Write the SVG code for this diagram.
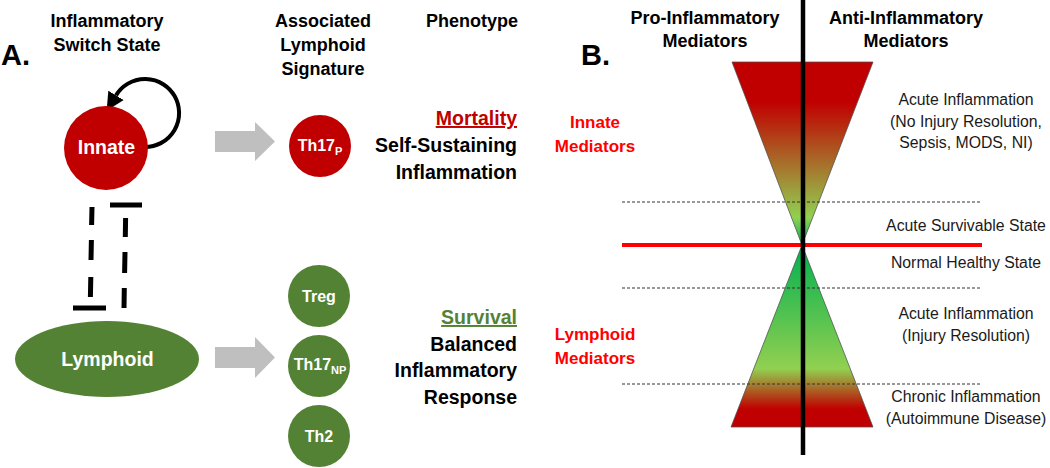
<svg xmlns="http://www.w3.org/2000/svg" width="1050" height="468" viewBox="0 0 1050 468">
<defs>
<style>
.h{font-family:"Liberation Sans",Arial,sans-serif;font-weight:bold;font-size:18px;fill:#000;text-anchor:middle}
.lbl{font-family:"Liberation Sans",Arial,sans-serif;font-weight:bold;font-size:29px;fill:#000}
.wt{font-family:"Liberation Sans",Arial,sans-serif;font-weight:bold;fill:#fff;text-anchor:middle}
.ph{font-family:"Liberation Sans",Arial,sans-serif;font-weight:bold;font-size:19.5px;fill:#000;text-anchor:end}
.med{font-family:"Liberation Sans",Arial,sans-serif;font-weight:bold;font-size:17px;fill:#ff0000;text-anchor:middle}
.st{font-family:"Liberation Sans",Arial,sans-serif;font-size:15.8px;fill:#1a1a1a;text-anchor:middle}
.red{fill:#c00000}
.grn{fill:#548235}
.garrow{fill:#bfbfbf}
.inh{stroke:#000;stroke-width:5;fill:none}
.dash{stroke:#333;stroke-width:1;stroke-dasharray:3,2;fill:none}
</style>
<marker id="ah" viewBox="0 0 10 10" refX="0" refY="5" markerUnits="userSpaceOnUse" markerWidth="18" markerHeight="19" orient="auto">
<path d="M0,0 L10,5 L0,10 z" fill="#000"/>
</marker>
<linearGradient id="gTop" gradientUnits="userSpaceOnUse" x1="0" y1="62" x2="0" y2="245">
<stop offset="0" stop-color="#c00000"/>
<stop offset="0.22" stop-color="#c00000"/>
<stop offset="0.85" stop-color="#92d050"/>
<stop offset="1" stop-color="#00b050"/>
</linearGradient>
<linearGradient id="gBot" gradientUnits="userSpaceOnUse" x1="0" y1="245" x2="0" y2="427">
<stop offset="0" stop-color="#00b050"/>
<stop offset="0.68" stop-color="#92d050"/>
<stop offset="0.9" stop-color="#c00000"/>
<stop offset="1" stop-color="#c00000"/>
</linearGradient>
</defs>
<rect width="1050" height="468" fill="#fff"/>

<!-- Panel A headers -->
<text class="lbl" x="1" y="65">A.</text>
<text class="h" x="107" y="27">Inflammatory</text>
<text class="h" x="107" y="51">Switch State</text>
<text class="h" x="323" y="27">Associated</text>
<text class="h" x="323" y="51">Lymphoid</text>
<text class="h" x="323" y="75">Signature</text>
<text class="h" x="472" y="27">Phenotype</text>

<!-- Connectors -->
<g id="connectors">
<path d="M145,147 A34,34 0 1 0 116,95.4" fill="none" stroke="#000" stroke-width="4" marker-end="url(#ah)"/>
<path class="inh" d="M92,207 L91.6,225 M91.4,240 L91,260 M90.8,277 L90.4,297"/>
<path class="inh" d="M73,308 L106,308"/>
<path class="inh" d="M124,308 L124.3,288 M124.6,273 L125,252 M125.3,237 L125.6,218"/>
<path class="inh" d="M110,205 L142,205"/>
<polygon class="garrow" points="215,131 255,131 255,122 275,141.5 255,161 255,152 215,152"/>
<polygon class="garrow" points="215,347 255,347 255,337 275,357.5 255,378 255,368 215,368"/>
</g>

<!-- Nodes -->
<g id="innate">
<circle class="red" cx="106" cy="148" r="42"/>
<text class="wt" x="106.5" y="154" font-size="19.5">Innate</text>
</g>
<g id="lymphoid">
<ellipse class="grn" cx="107" cy="359" rx="92" ry="38"/>
<text class="wt" x="107.5" y="366" font-size="19.5">Lymphoid</text>
</g>
<g id="th17p">
<circle class="red" cx="320" cy="146" r="31"/>
<text class="wt" x="320" y="151" font-size="16">Th17<tspan font-size="11" dy="4">P</tspan></text>
</g>
<g id="treg">
<circle class="grn" cx="319" cy="296" r="31"/>
<text class="wt" x="319" y="302" font-size="16">Treg</text>
</g>
<g id="th17np">
<circle class="grn" cx="319" cy="366" r="31"/>
<text class="wt" x="320" y="370" font-size="16">Th17<tspan font-size="11" dy="4">NP</tspan></text>
</g>
<g id="th2">
<circle class="grn" cx="319" cy="436" r="31"/>
<text class="wt" x="319" y="442" font-size="16">Th2</text>
</g>

<!-- Phenotypes -->
<g id="mortality">
<text class="ph" x="517" y="125" style="fill:#c00000" text-decoration="underline">Mortality</text>
<text class="ph" x="517" y="152">Self-Sustaining</text>
<text class="ph" x="517" y="179">Inflammation</text>
</g>
<g id="survival">
<text class="ph" x="517" y="324" style="fill:#548235" text-decoration="underline">Survival</text>
<text class="ph" x="517" y="351">Balanced</text>
<text class="ph" x="517" y="377">Inflammatory</text>
<text class="ph" x="517" y="404">Response</text>
</g>

<!-- Panel B -->
<text class="lbl" x="581" y="65">B.</text>
<text class="h" x="705" y="24">Pro-Inflammatory</text>
<text class="h" x="705" y="47">Mediators</text>
<text class="h" x="906" y="24">Anti-Inflammatory</text>
<text class="h" x="906" y="47">Mediators</text>

<g id="innate-mediators">
<text class="med" x="595" y="128">Innate</text>
<text class="med" x="595" y="152">Mediators</text>
</g>
<g id="lymphoid-mediators">
<text class="med" x="595" y="340">Lymphoid</text>
<text class="med" x="595" y="364">Mediators</text>
</g>

<g id="funnel">
<polygon points="732,62 873,62 802,245" fill="url(#gTop)" stroke="#4d4d4d" stroke-width="0.75"/>
<polygon points="802,245 873,427 731,427" fill="url(#gBot)" stroke="#4d4d4d" stroke-width="0.75"/>
<line class="dash" x1="622" y1="202" x2="980" y2="202"/>
<line class="dash" x1="622" y1="288" x2="980" y2="288"/>
<line class="dash" x1="622" y1="384" x2="980" y2="384"/>
<line x1="622" y1="245" x2="982" y2="245" stroke="#ff0000" stroke-width="4"/>
<line x1="803" y1="0" x2="803" y2="455" stroke="#000" stroke-width="4.5"/>
</g>

<g id="states">
<text class="st" x="966" y="105">Acute Inflammation</text>
<text class="st" x="966" y="126.5">(No Injury Resolution,</text>
<text class="st" x="966" y="148">Sepsis, MODS, NI)</text>
<text class="st" x="966" y="231">Acute Survivable State</text>
<text class="st" x="966" y="268">Normal Healthy State</text>
<text class="st" x="966" y="319">Acute Inflammation</text>
<text class="st" x="966" y="341">(Injury Resolution)</text>
<text class="st" x="966" y="402">Chronic Inflammation</text>
<text class="st" x="966" y="424">(Autoimmune Disease)</text>
</g>
</svg>
